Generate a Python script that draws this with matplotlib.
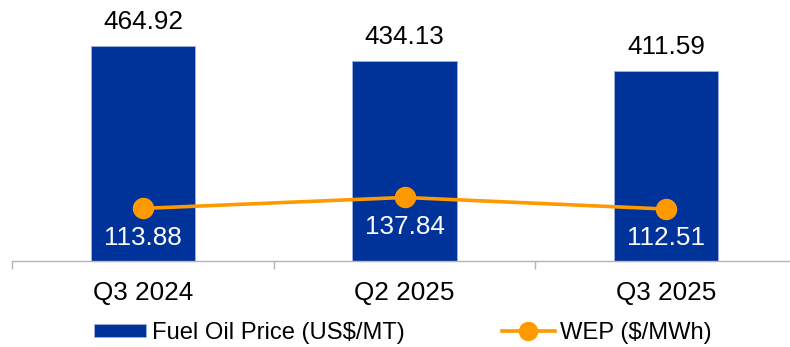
import matplotlib.pyplot as plt
from matplotlib.ticker import FixedLocator

plt.rcParams['font.family'] = ['Liberation Sans', 'DejaVu Sans']

# ── Dados ─────────────────────────────────────────────────────────────────────
trimestres = ['Q3 2024', 'Q2 2025', 'Q3 2025']
preco_oleo = [464.92, 434.13, 411.59]   # Fuel Oil Price (US$/MT)
wep = [113.88, 137.84, 112.51]          # WEP ($/MWh)

AZUL = '#003399'
LARANJA = '#FF9900'
CINZA = '#b3b3b3'

fig = plt.figure(figsize=(7.9, 3.47), dpi=100)
ax = fig.add_axes([12.3 / 790, 1 - 260.5 / 347, 784.4 / 790, 260.5 / 347])
x = range(len(trimestres))

# barras do preço do óleo combustível
ax.bar(x, preco_oleo, width=0.4, color=AZUL, edgecolor='#9db3e0',
       linewidth=0.6, label='Fuel Oil Price (US$/MT)', zorder=2)
for xi, v in zip(x, preco_oleo):
    ax.annotate(f'{v:.2f}', (xi, v), xytext=(0, 12.3), textcoords='offset points',
                ha='center', va='baseline', fontsize=18.8, color='black')

ax.set_xlim(-0.5, 2.5)
ax.set_ylim(0, 565.8)
ax.set_xticks(list(x))
ax.set_xticklabels(trimestres, fontsize=18.8)
ax.xaxis.set_minor_locator(FixedLocator([-0.5, 0.5, 1.5, 2.5]))
ax.tick_params(axis='x', which='major', length=0, pad=15)
ax.tick_params(axis='x', which='minor', length=5.8, width=1, color=CINZA)
ax.set_yticks([])
for lado in ['top', 'right', 'left']:
    ax.spines[lado].set_visible(False)
ax.spines['bottom'].set_color(CINZA)
ax.spines['bottom'].set_linewidth(1)

# linha do WEP no eixo secundário
ax2 = ax.twinx()
ax2.plot(x, wep, color=LARANJA, linewidth=2.6, marker='o', markersize=14.4,
         label='WEP ($/MWh)', zorder=3)
for xi, v in zip(x, wep):
    ax2.annotate(f'{v:.2f}', (xi, v), xytext=(0, -26), textcoords='offset points',
                 ha='center', va='baseline', fontsize=18.8, color='white')
ax2.set_ylim(0, 569.5)
ax2.set_yticks([])
for lado in ['top', 'right', 'left', 'bottom']:
    ax2.spines[lado].set_visible(False)

# legenda inferior
h1, l1 = ax.get_legend_handles_labels()
h2, l2 = ax2.get_legend_handles_labels()
leg = fig.legend(h1 + h2, l1 + l2, loc='center', bbox_to_anchor=(403 / 790, 1 - 333 / 347),
                 ncol=2, frameon=False, fontsize=17.1, handlelength=2.2,
                 handleheight=0.5, handletextpad=0.25, columnspacing=4.1,
                 markerscale=0.9, borderpad=0, borderaxespad=0)
for t in leg.get_texts():
    t.set_color('black')

fig.savefig('out.png', dpi=100)
